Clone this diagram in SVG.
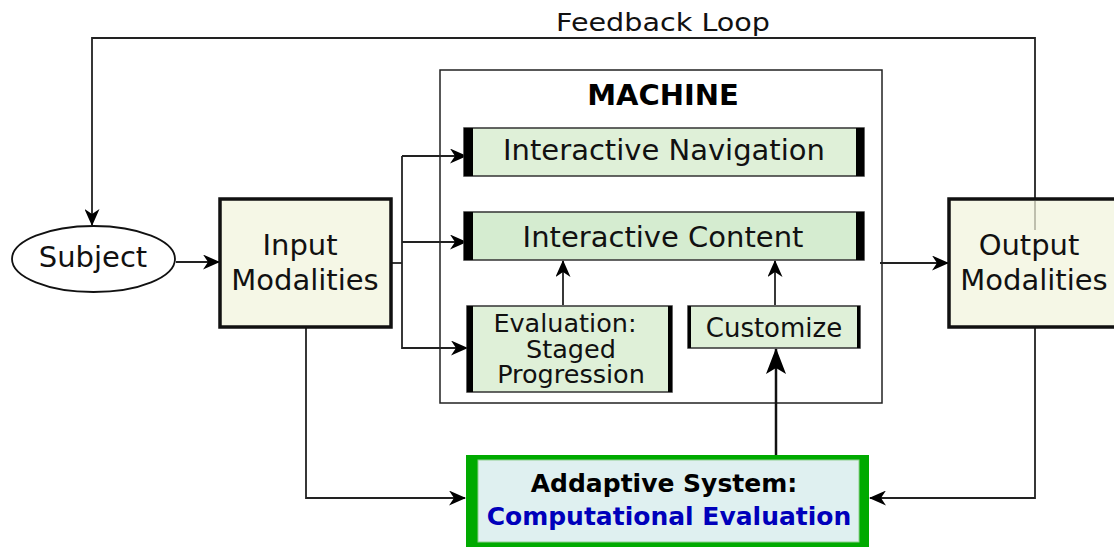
<svg xmlns="http://www.w3.org/2000/svg" width="1114" height="548" viewBox="0 0 1114 548">
<defs>
<marker id="ah" markerWidth="17" markerHeight="15" refX="16" refY="7.5" orient="auto" markerUnits="userSpaceOnUse">
<path d="M0,0 L17,7.5 L0,15 L5,7.5 Z" fill="#000"/>
</marker>
<marker id="ahb" markerWidth="26" markerHeight="20" refX="25" refY="10" orient="auto" markerUnits="userSpaceOnUse">
<path d="M0,0 L26,10 L0,20 L6,10 Z" fill="#000"/>
</marker>
</defs>
<style>
text{font-family:"DejaVu Sans","Liberation Sans",sans-serif;fill:#111;}
.c{fill:none;stroke:#222;stroke-width:1.8;}
.mod{fill:#f5f7e6;stroke:#111;stroke-width:3.5;}
.g{fill:#dff0d8;stroke:#333;stroke-width:1.5;}
.bar{fill:#000;}
</style>
<rect width="1114" height="548" fill="#fff"/>
<g id="machine">
<rect x="440" y="70" width="442" height="333" fill="#fff" stroke="#222" stroke-width="1.5"/>
<text x="663" y="105" font-size="29" font-weight="bold" text-anchor="middle" style="fill:#000">MACHINE</text>
</g>
<g id="connectors">
<polyline class="c" points="1035,198 1035,38 92,38 92,225" marker-end="url(#ah)"/>
<line class="c" x1="176" y1="262" x2="219" y2="262" marker-end="url(#ah)"/>
<polyline class="c" points="392,263 402,263"/>
<line class="c" x1="402" y1="156" x2="402" y2="349"/>
<line class="c" x1="402" y1="156" x2="466" y2="156" marker-end="url(#ah)"/>
<line class="c" x1="402" y1="242" x2="466" y2="242" marker-end="url(#ah)"/>
<line class="c" x1="402" y1="348" x2="467" y2="348" marker-end="url(#ah)"/>
<line class="c" x1="563" y1="305" x2="563" y2="261" marker-end="url(#ah)"/>
<line class="c" x1="775" y1="305" x2="775" y2="261" marker-end="url(#ah)"/>
<line x1="776" y1="456" x2="776" y2="349" stroke="#111" stroke-width="2.5" marker-end="url(#ahb)"/>
<polyline class="c" points="306,328 306,498 465,498" marker-end="url(#ah)"/>
<polyline class="c" points="1035,328 1035,498 870,498" marker-end="url(#ah)"/>
<line class="c" x1="880" y1="263" x2="948" y2="263" marker-end="url(#ah)"/>
</g>
<text x="663" y="31" font-size="25" text-anchor="middle" textLength="214" lengthAdjust="spacingAndGlyphs">Feedback Loop</text>
<g id="subject">
<ellipse cx="93.5" cy="259" rx="81.5" ry="33" fill="#fff" stroke="#111" stroke-width="1.8"/>
<text x="93" y="267" font-size="29" text-anchor="middle">Subject</text>
</g>
<g id="input">
<rect class="mod" x="220" y="199" width="171" height="128"/>
<text x="300" y="255" font-size="29" text-anchor="middle">Input</text>
<text x="305" y="290" font-size="29" text-anchor="middle">Modalities</text>
</g>
<g id="nav">
<rect class="g" x="464" y="128" width="400" height="48"/>
<rect class="bar" x="464" y="128" width="9" height="48"/>
<rect class="bar" x="856" y="128" width="8" height="48"/>
<text x="664" y="160" font-size="29" text-anchor="middle">Interactive Navigation</text>
</g>
<g id="content">
<rect x="464" y="212" width="400" height="48" fill="#d5ecd0" stroke="#333" stroke-width="1.5"/>
<rect class="bar" x="464" y="212" width="9" height="48"/>
<rect class="bar" x="856" y="212" width="8" height="48"/>
<text x="663" y="247" font-size="29" text-anchor="middle">Interactive Content</text>
</g>
<g id="evaluation">
<rect class="g" x="467" y="306" width="205" height="86" stroke="#000" stroke-width="2.5"/>
<rect class="bar" x="467" y="306" width="6" height="86"/>
<rect class="bar" x="668" y="306" width="4" height="86"/>
<text x="565" y="332" font-size="25.5" text-anchor="middle">Evaluation:</text>
<text x="571" y="358" font-size="25.5" text-anchor="middle">Staged</text>
<text x="571" y="383" font-size="25.5" text-anchor="middle">Progression</text>
</g>
<g id="customize">
<rect class="g" x="688" y="306" width="172" height="42" stroke="#111" stroke-width="1.5"/>
<rect class="bar" x="688" y="306" width="3" height="42"/>
<rect class="bar" x="857" y="306" width="3" height="42"/>
<text x="774" y="337" font-size="26" text-anchor="middle">Customize</text>
</g>
<g id="output">
<rect class="mod" x="949" y="199" width="170" height="128"/>
<line x1="1035" y1="201" x2="1035" y2="230" stroke="#b8b8a8" stroke-width="1.8"/>
<text x="1029" y="255" font-size="29" text-anchor="middle">Output</text>
<text x="1034" y="290" font-size="29" text-anchor="middle">Modalities</text>
</g>
<g id="adaptive">
<rect x="466" y="455" width="403" height="92" fill="#00aa00"/>
<rect x="478" y="460" width="381" height="82" fill="#dff0f0" stroke="#8fd08f" stroke-width="1"/>
<text x="664" y="492" font-size="25" font-weight="bold" text-anchor="middle" style="fill:#000">Addaptive System:</text>
<text x="669" y="525" font-size="25" font-weight="bold" text-anchor="middle" style="fill:#0000bb">Computational Evaluation</text>
</g>
</svg>
